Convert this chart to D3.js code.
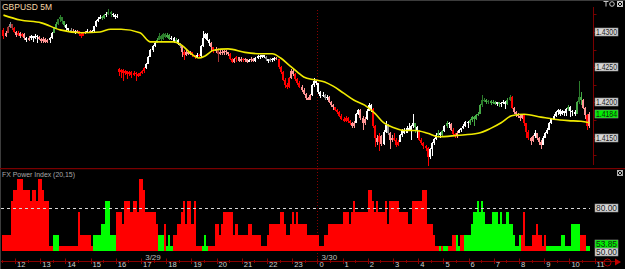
<!DOCTYPE html>
<html>
<head>
<meta charset="utf-8">
<script src="https://cdn.jsdelivr.net/npm/d3@7"></script>
<style>
  html, body { margin: 0; padding: 0; background: #000; overflow: hidden; }
  svg { display: block; }
  text { font-family: "Liberation Sans", Arial, sans-serif; }
</style>
</head>
<body>
<svg id="chart" width="625" height="269"></svg>
<script>
// prices are kept in pips above 1.4100
var BASE = 1.41, PIP = 0.0001;
var symbolName = 'GBPUSD 5M';
var indicatorName = 'FX Power Index (20,15)';

var opens = [
  203,195,199,207,211,205,200,196,199,194, 197,191,188,192,194,191,195,193,190,187,
  190,186,188,192,199,206,212,218,221,215, 210,205,203,201,202,199,201,197,195,198,
  200,202,199,201,208,215,219,222,220,224, 226,229,226,224,222,148,143,146,141,144,
  140,143,139,142,140,138,141,144,149,155, 165,174,180,185,189,195,190,197,193,196,
  190,192,187,189,183,180,172,167,172,169, 171,167,164,168,166,180,192,197,189,185,
  178,173,176,169,172,170,173,171,169,162, 158,161,164,159,162,160,161,158,160,162,
  159,163,166,164,167,165,161,159,162,160, 163,161,150,143,132,124,122,134,145,140,
  133,128,122,118,112,106,104,110,124,130, 127,114,109,111,106,108,101,96,93,89,
  86,81,77,74,78,73,70,66,71,83, 89,78,70,76,88,96,91,66,50,44,
  52,41,58,68,57,46,50,47,40,44, 53,60,57,64,61,66,70,65,59,47,
  42,38,35,22,33,42,48,54,57,53, 59,66,71,69,61,55,52,57,60,63,
  67,72,70,75,79,77,82,84,96,103, 104,100,102,99,101,98,100,97,99,101,
  97,104,108,92,86,84,81,78,82,70, 58,49,45,52,56,50,44,40,50,56,
  61,70,76,80,86,89,84,87,85,90, 94,88,86,84,100,108,104,92,82,66
];
var highs = [
  206,202,209,214,212,207,202,201,200,199, 198,193,194,196,195,197,196,194,192,193,
  191,190,193,200,207,214,219,224,222,216, 211,206,205,204,203,203,201,199,200,202,
  204,203,203,209,217,221,224,223,226,228, 232,230,227,226,225,149,148,147,146,145,
  145,144,144,143,142,143,146,150,156,166, 176,182,187,191,199,196,199,198,198,197,
  194,193,191,190,184,181,174,174,173,173, 172,168,170,169,182,201,199,198,190,186,
  179,178,177,174,174,175,174,172,170,163, 163,166,165,164,163,163,162,161,164,163,
  164,168,167,168,168,166,162,163,163,164, 165,162,151,144,134,127,136,148,147,141,
  134,130,124,120,113,108,112,126,134,131, 128,116,114,112,110,109,102,98,94,91,
  87,83,79,80,79,75,72,73,85,91, 90,80,79,90,99,97,92,68,54,56,
  53,60,74,69,58,53,56,49,46,55, 62,63,66,70,68,84,71,66,60,49,
  44,40,36,35,44,49,56,60,58,60, 68,74,72,70,63,57,59,62,64,69,
  74,73,77,81,80,84,86,98,110,106, 105,104,103,103,102,101,101,100,103,102,
  106,110,109,93,88,85,83,84,83,71, 60,51,54,60,57,51,46,52,58,64,
  72,78,84,88,91,90,89,88,92,96, 95,89,89,102,131,114,105,93,84,86
];
var lows = [
  190,193,198,205,203,198,193,194,192,193, 189,186,187,189,186,190,184,188,185,185,
  184,184,184,190,198,205,210,214,212,207, 202,200,199,199,197,198,194,192,194,197,
  199,198,198,200,207,214,218,217,219,222, 224,222,221,219,220,138,135,131,139,133,
  138,134,137,131,136,137,140,142,148,154, 164,172,179,184,188,187,189,191,192,188,
  188,185,185,182,177,164,160,166,167,167, 165,162,163,164,165,179,190,187,180,172,
  170,170,157,167,167,168,168,166,160,156, 156,158,157,157,157,158,156,157,158,157,
  158,162,162,163,163,159,156,157,158,159, 160,148,140,130,121,119,121,133,137,130,
  125,120,115,110,104,103,103,109,122,124, 112,106,107,103,104,99,93,89,87,84,
  79,75,72,72,70,68,63,64,70,82, 75,60,68,75,87,86,64,36,40,31,
  38,40,56,54,34,44,45,36,38,43, 51,55,56,59,46,64,56,50,45,39,
  33,31,10,20,24,40,47,52,49,52, 58,64,64,59,52,49,50,56,58,62,
  65,63,68,72,67,75,80,83,94,100, 98,98,96,97,96,95,94,93,97,91,
  96,102,90,84,79,78,74,76,66,50, 46,39,43,50,46,40,34,39,49,55,
  60,69,75,79,82,81,82,81,80,88, 79,81,81,83,98,96,90,77,60,63
];
var closes = [
  195,199,207,211,205,200,196,199,194,197, 191,188,192,194,191,195,193,190,187,190,
  186,188,192,199,206,212,218,221,215,210, 205,203,201,202,199,201,197,195,198,200,
  202,199,201,208,215,219,222,220,224,226, 229,226,224,222,223,143,146,141,144,140,
  143,139,142,140,138,141,144,149,155,165, 174,180,185,189,195,190,197,193,196,190,
  192,187,189,183,180,172,167,172,169,171, 167,164,168,166,180,192,197,189,185,178,
  173,176,169,172,170,173,171,169,162,158, 161,164,159,162,160,161,158,160,162,159,
  163,166,164,167,165,161,159,162,160,163, 161,150,143,132,124,122,134,145,140,133,
  128,122,118,112,106,104,110,124,130,127, 114,109,111,106,108,101,96,93,89,86,
  81,77,74,78,73,70,66,71,83,89, 78,70,76,88,96,91,66,50,44,52,
  41,58,68,57,46,50,47,40,44,53, 60,57,64,61,66,70,65,59,47,42,
  38,35,22,33,42,48,54,57,53,59, 66,71,69,61,55,52,57,60,63,67,
  72,70,75,79,77,82,84,96,103,104, 100,102,99,101,98,100,97,99,101,97,
  104,108,92,86,84,81,78,82,70,58, 49,45,52,56,50,44,40,50,56,61,
  70,76,80,86,89,84,87,85,90,94, 88,86,84,100,108,104,92,82,66,84
];
// candle colouring: R red, P pink, W white, K grey, M dark red, G green, D dark green
var tones = 'RPMKMRPRPR' + 'PWPWWWWPPP' + 'PPWWGGDDDG' + 'WWKPWPRRRP' + 'WPWWWWWGGW' +
            'DDWWWRRRRR' + 'RRRRRRRRWW' + 'WWWGDDDDGG' + 'WWGWKPRPPP' + 'RRWRWWWWWP' +
            'RPMPPPPPRR' + 'PRPPRPPWPP' + 'WWWWWKWKWW' + 'PRRRRRRPPR' + 'RRPPPPPWWW' +
            'WWWKWPPPRR' + 'RRRRRRPPWW' + 'PPPWWWRRPR' + 'PWWKPPRRRW' + 'WWWWWWGWRR' +
            'RRRWWWWGWG' + 'WGWPRRPWWW' + 'WWGGGGGGDD' + 'GDGGGWGWWW' + 'GDRPPPPPRR' +
            'RPPWPPPWWW' + 'WWWWWWWWWG' + 'WWWGDGPPRP';

// moving average read at some bars: [bar, pips]
var maPoints = [
  [0,224],[8,217],[18,213],[27,203],[37,199],[46,200],[51,204],[56,204],[65,199],[70,186],
  [81,186],[85,181],[89,170],[93,163],[96,166],[100,174],[107,176],[115,171],[123,169],[128,169],
  [132,163],[136,153],[140,143],[143,136],[148,132],[153,129],[157,123],[162,113],[167,103],[172,96],
  [177,84],[181,71],[186,64],[191,60],[196,60],[202,56],[207,51],[216,53],[226,56],[232,63],
  [237,71],[242,81],[248,83],[256,79],[262,76],[269,74],[275,73],[279,71]
];

// FX Power Index, run length: [bars, value, side]
var fxRuns = [
  [4,61.54,'r'],[1,84.62,'r'],[2,92.31,'r'],[3,100,'r'],[3,92.31,'r'],[1,84.62,'r'],[2,92.31,'r'],[1,84.62,'r'],
  [2,100,'r'],[1,92.31,'r'],[2,84.62,'r'],[2,53.85,'r'],[3,61.54,'g'],[9,53.85,'r'],[1,76.92,'r'],[5,61.54,'r'],
  [1,53.85,'r'],[4,61.54,'g'],[2,69.23,'g'],[2,84.62,'g'],[3,61.54,'g'],[3,76.92,'r'],[1,69.23,'r'],[3,84.62,'r'],
  [1,76.92,'r'],[2,84.62,'r'],[1,76.92,'r'],[2,100,'r'],[1,92.31,'r'],[5,76.92,'r'],[1,69.23,'r'],[3,61.54,'g'],
  [1,69.23,'r'],[1,53.85,'g'],[1,61.54,'g'],[1,53.85,'g'],[2,61.54,'r'],[2,69.23,'r'],[1,76.92,'r'],[1,84.62,'r'],
  [1,69.23,'r'],[2,84.62,'r'],[1,69.23,'r'],[1,84.62,'r'],[3,53.85,'r'],[1,53.85,'g'],[1,61.54,'g'],[1,53.85,'g'],
  [3,53.85,'r'],[2,69.23,'r'],[1,61.54,'r'],[1,69.23,'r'],[5,76.92,'r'],[1,61.54,'r'],[1,69.23,'r'],[5,61.54,'r'],
  [2,69.23,'r'],[4,61.54,'r'],[3,53.85,'r'],[1,61.54,'r'],[5,69.23,'r'],[2,76.92,'r'],[1,69.23,'r'],[2,61.54,'r'],
  [1,69.23,'r'],[1,76.92,'r'],[1,69.23,'r'],[1,76.92,'r'],[4,69.23,'r'],[6,61.54,'r'],[2,53.85,'r'],[2,61.54,'r'],
  [7,69.23,'r'],[3,76.92,'r'],[1,69.23,'r'],[1,76.92,'r'],[1,84.62,'r'],[6,76.92,'r'],[2,92.31,'r'],[1,84.62,'r'],
  [1,76.92,'r'],[1,84.62,'r'],[3,76.92,'r'],[1,84.62,'r'],[1,69.23,'r'],[5,84.62,'r'],[4,76.92,'r'],[2,69.23,'r'],
  [5,84.62,'r'],[2,92.31,'r'],[3,69.23,'r'],[1,61.54,'r'],[2,53.85,'r'],[1,53.85,'g'],[1,53.85,'r'],[2,53.85,'g'],
  [2,53.85,'r'],[2,61.54,'r'],[1,61.54,'g'],[1,53.85,'g'],[2,61.54,'r'],[3,61.54,'g'],[1,69.23,'g'],[2,76.92,'g'],
  [1,84.62,'g'],[1,76.92,'g'],[1,84.62,'g'],[1,76.92,'g'],[3,69.23,'g'],[3,76.92,'g'],[1,69.23,'g'],[1,76.92,'g'],
  [2,69.23,'g'],[1,76.92,'g'],[2,69.23,'g'],[1,61.54,'g'],[2,53.85,'g'],[1,61.54,'g'],[1,61.54,'r'],[1,76.92,'r'],
  [3,53.85,'r'],[2,61.54,'r'],[1,69.23,'r'],[2,61.54,'r'],[1,53.85,'r'],[1,61.54,'r'],[7,53.85,'g'],[2,61.54,'g'],
  [3,53.85,'g'],[4,69.23,'g'],[3,61.54,'r'],[2,53.85,'g']
];

var priceTicks = [1.4300, 1.4250, 1.4200, 1.4150];
var fxTicks = [80, 50];
var fxLevel = 80;
var hourLabels = ['12','13','14','15','16','17','18','19','20','21','22','23',
                  '0','1','2','3','4','5','6','7','8','9','10','11'];
var firstHourBar = 6, barsPerHour = 12;
var dateLabels = [[68, '3/29'], [152, '3/30']];
var dayBreakBar = 150;

var toneColor = { R: '#ff0000', P: '#ff9494', W: '#ffffff', K: '#8c8c8c', M: '#a83232', G: '#45a845', D: '#2c7d2c' };

var svg = d3.select('#chart');
var px = function(v) { return BASE + v * PIP; };

var x = d3.scaleLinear().domain([0, closes.length]).range([2.4, 2.4 + 2.1 * closes.length]);
var bw = x(1) - x(0);
var xi = function(i) { return Math.round(x(i)); };
var yP = d3.scaleLinear().domain([1.415, 1.43]).range([137.5, 32]);
var yF = d3.scaleLinear().domain([50, 80]).range([251.5, 208]);
var axisX = 593.5, lowBottom = 251;

// frame
svg.append('rect').attr('width', 625).attr('height', 269).attr('fill', '#000');
svg.append('line').attr('x1', 0).attr('x2', 625).attr('y1', 0.5).attr('y2', 0.5).attr('stroke', '#3c3c3c');
svg.append('line').attr('x1', 0.5).attr('x2', 0.5).attr('y1', 0).attr('y2', 269).attr('stroke', '#3c3c3c');

var defs = svg.append('defs');
defs.append('clipPath').attr('id', 'clipTop').append('rect')
  .attr('x', 1).attr('y', 6).attr('width', axisX - 1).attr('height', 160);
defs.append('clipPath').attr('id', 'clipLow').append('rect')
  .attr('x', 1).attr('y', 170).attr('width', axisX - 1).attr('height', lowBottom - 170);

// day separator
svg.append('line')
  .attr('x1', xi(dayBreakBar) + 0.5).attr('x2', xi(dayBreakBar) + 0.5)
  .attr('y1', 10).attr('y2', 261)
  .attr('stroke', '#8a0000').attr('stroke-dasharray', '1,2');

// ---- price panel
var candles = closes.map(function(c, i) {
  return { i: i, o: px(opens[i]), h: px(highs[i]), l: px(lows[i]), c: px(c), tone: tones[i] };
});
var gTop = svg.append('g').attr('clip-path', 'url(#clipTop)').attr('shape-rendering', 'crispEdges');

gTop.selectAll('rect.wick').data(candles).join('rect')
  .attr('class', 'wick')
  .attr('x', function(d) { return xi(d.i) + 1; })
  .attr('width', 1)
  .attr('y', function(d) { return Math.round(yP(d.h)); })
  .attr('height', function(d) { return Math.max(1, Math.round(yP(d.l)) - Math.round(yP(d.h))); })
  .attr('fill', function(d) { return toneColor[d.tone]; });

gTop.selectAll('rect.body').data(candles).join('rect')
  .attr('class', 'body')
  .attr('x', function(d) { return xi(d.i); })
  .attr('width', 2)
  .attr('y', function(d) { return Math.round(yP(Math.max(d.o, d.c))); })
  .attr('height', function(d) {
    return Math.max(1, Math.round(yP(Math.min(d.o, d.c))) - Math.round(yP(Math.max(d.o, d.c))));
  })
  .attr('fill', function(d) { return toneColor[d.tone]; });

var maLine = d3.line()
  .x(function(d) { return x(d[0]) + bw / 2; })
  .y(function(d) { return yP(px(d[1])); })
  .curve(d3.curveMonotoneX);
svg.append('g').attr('clip-path', 'url(#clipTop)').append('path').datum(maPoints)
  .attr('d', maLine).attr('fill', 'none')
  .attr('stroke', '#f0ea00').attr('stroke-width', 1.6);

svg.append('text').attr('x', 2).attr('y', 10)
  .attr('font-size', 9.5).attr('fill', '#f7d9a8')
  .attr('textLength', 50).attr('lengthAdjust', 'spacingAndGlyphs')
  .text(symbolName);

// price axis
svg.append('line').attr('x1', axisX).attr('x2', axisX).attr('y1', 7).attr('y2', 165)
  .attr('stroke', '#7a0000');
var minorPrices = d3.range(1.4125, 1.4326, 0.0025);
svg.selectAll('line.ptick').data(minorPrices).join('line')
  .attr('class', 'ptick')
  .attr('x1', axisX).attr('x2', axisX + 3)
  .attr('y1', function(d) { return Math.round(yP(d)) + 0.5; })
  .attr('y2', function(d) { return Math.round(yP(d)) + 0.5; })
  .attr('stroke', '#7a0000');

function tag(yc, label, fill) {
  var g = svg.append('g');
  g.append('rect').attr('x', 595).attr('y', Math.round(yc) - 4).attr('width', 23).attr('height', 8)
    .attr('fill', fill).attr('stroke', '#8c8c8c').attr('stroke-width', 0.6);
  g.append('text').attr('x', 596).attr('y', Math.round(yc) + 3)
    .attr('font-size', 8.2).attr('fill', '#1a1a1a')
    .attr('textLength', 21).attr('lengthAdjust', 'spacingAndGlyphs')
    .text(label);
}
priceTicks.forEach(function(p) { tag(yP(p), d3.format('.4f')(p), '#d6d6d6'); });
var last = candles[candles.length - 1];
tag(yP(last.c), d3.format('.4f')(last.c), '#00f000');

// top-right icons
var ic = svg.append('g').attr('stroke', '#c8c8c8').attr('fill', 'none').attr('stroke-width', 1);
ic.append('path').attr('d', 'M603.5,1.5 h5 M606,1.5 v5');
ic.append('circle').attr('cx', 612).attr('cy', 4).attr('r', 2.3);
ic.append('rect').attr('x', 617.5).attr('y', 1.5).attr('width', 5).attr('height', 5);
ic.append('path').attr('d', 'M618,2 L622,6 M622,2 L618,6');

// separator
svg.append('line').attr('x1', 0).attr('x2', 625).attr('y1', 168.6).attr('y2', 168.6)
  .attr('stroke', '#7a0000').attr('stroke-width', 1.3);

// ---- FX Power Index panel
var fx = [];
fxRuns.forEach(function(r) {
  for (var k = 0; k < r[0]; k++) fx.push({ i: fx.length, v: r[1], s: r[2] });
});
var gLow = svg.append('g').attr('clip-path', 'url(#clipLow)').attr('shape-rendering', 'crispEdges');
gLow.selectAll('rect.fx').data(fx).join('rect')
  .attr('class', 'fx')
  .attr('x', function(d) { return xi(d.i); })
  .attr('width', function(d) { return xi(d.i + 1) - xi(d.i); })
  .attr('y', function(d) { return Math.round(yF(d.v)); })
  .attr('height', function(d) { return Math.max(0, lowBottom - Math.round(yF(d.v))); })
  .attr('fill', function(d) { return d.s === 'g' ? '#00ff00' : '#ff0000'; });

svg.append('line').attr('x1', 1).attr('x2', 590)
  .attr('y1', Math.round(yF(fxLevel)) + 0.5).attr('y2', Math.round(yF(fxLevel)) + 0.5)
  .attr('stroke', '#d8d8d8').attr('stroke-dasharray', '3,3');

svg.append('text').attr('x', 2).attr('y', 177)
  .attr('font-size', 8).attr('fill', '#a8a8a8')
  .attr('textLength', 73).attr('lengthAdjust', 'spacingAndGlyphs')
  .text(indicatorName);

var ic2 = svg.append('g').attr('stroke', '#b0b0b0').attr('fill', 'none');
ic2.append('rect').attr('x', 617.5).attr('y', 170.5).attr('width', 5).attr('height', 5);
ic2.append('path').attr('d', 'M618,171 L622,175 M622,171 L618,175');

tag(yF(fxTicks[0]), d3.format('.2f')(fxTicks[0]), '#d6d6d6');
tag(yF(fxTicks[1]) + 0.5, d3.format('.2f')(fxTicks[1]), '#d6d6d6');
var lastFx = fx[fx.length - 1];
tag(yF(lastFx.v) - 1.5, d3.format('.2f')(lastFx.v), '#00f000');

// ---- time axis
var axisY = 261.5;
svg.append('line').attr('x1', 1).attr('x2', 616).attr('y1', axisY).attr('y2', axisY)
  .attr('stroke', '#8a0000');
var halfTicks = d3.range(0, closes.length + 3, barsPerHour / 2);
svg.selectAll('line.htick').data(halfTicks).join('line')
  .attr('class', 'htick')
  .attr('x1', function(d) { return xi(d) + 0.5; })
  .attr('x2', function(d) { return xi(d) + 0.5; })
  .attr('y1', function(d) { return (d - firstHourBar) % barsPerHour === 0 ? 258.5 : 260; })
  .attr('y2', function(d) { return (d - firstHourBar) % barsPerHour === 0 ? 264 : 263; })
  .attr('stroke', '#8a0000');

svg.selectAll('text.hour').data(hourLabels).join('text')
  .attr('class', 'hour')
  .attr('x', function(d, k) { return x(firstHourBar + k * barsPerHour) + 2; })
  .attr('y', 267.2)
  .attr('font-size', 7.6).attr('fill', '#cfcfcf')
  .text(function(d) { return d; });

svg.selectAll('text.date').data(dateLabels).join('text')
  .attr('class', 'date')
  .attr('x', function(d) { return x(d[0]); })
  .attr('y', 259.5)
  .attr('font-size', 8).attr('fill', '#bdbdbd')
  .text(function(d) { return d[1]; });

// scroll icons bottom right
svg.append('circle').attr('cx', 607.5).attr('cy', 262.5).attr('r', 3.5)
  .attr('fill', 'none').attr('stroke', '#b00000');
svg.append('path').attr('d', 'M615,258.5 L621,262 L615,265.5 Z').attr('fill', '#c00000');
</script>
</body>
</html>
